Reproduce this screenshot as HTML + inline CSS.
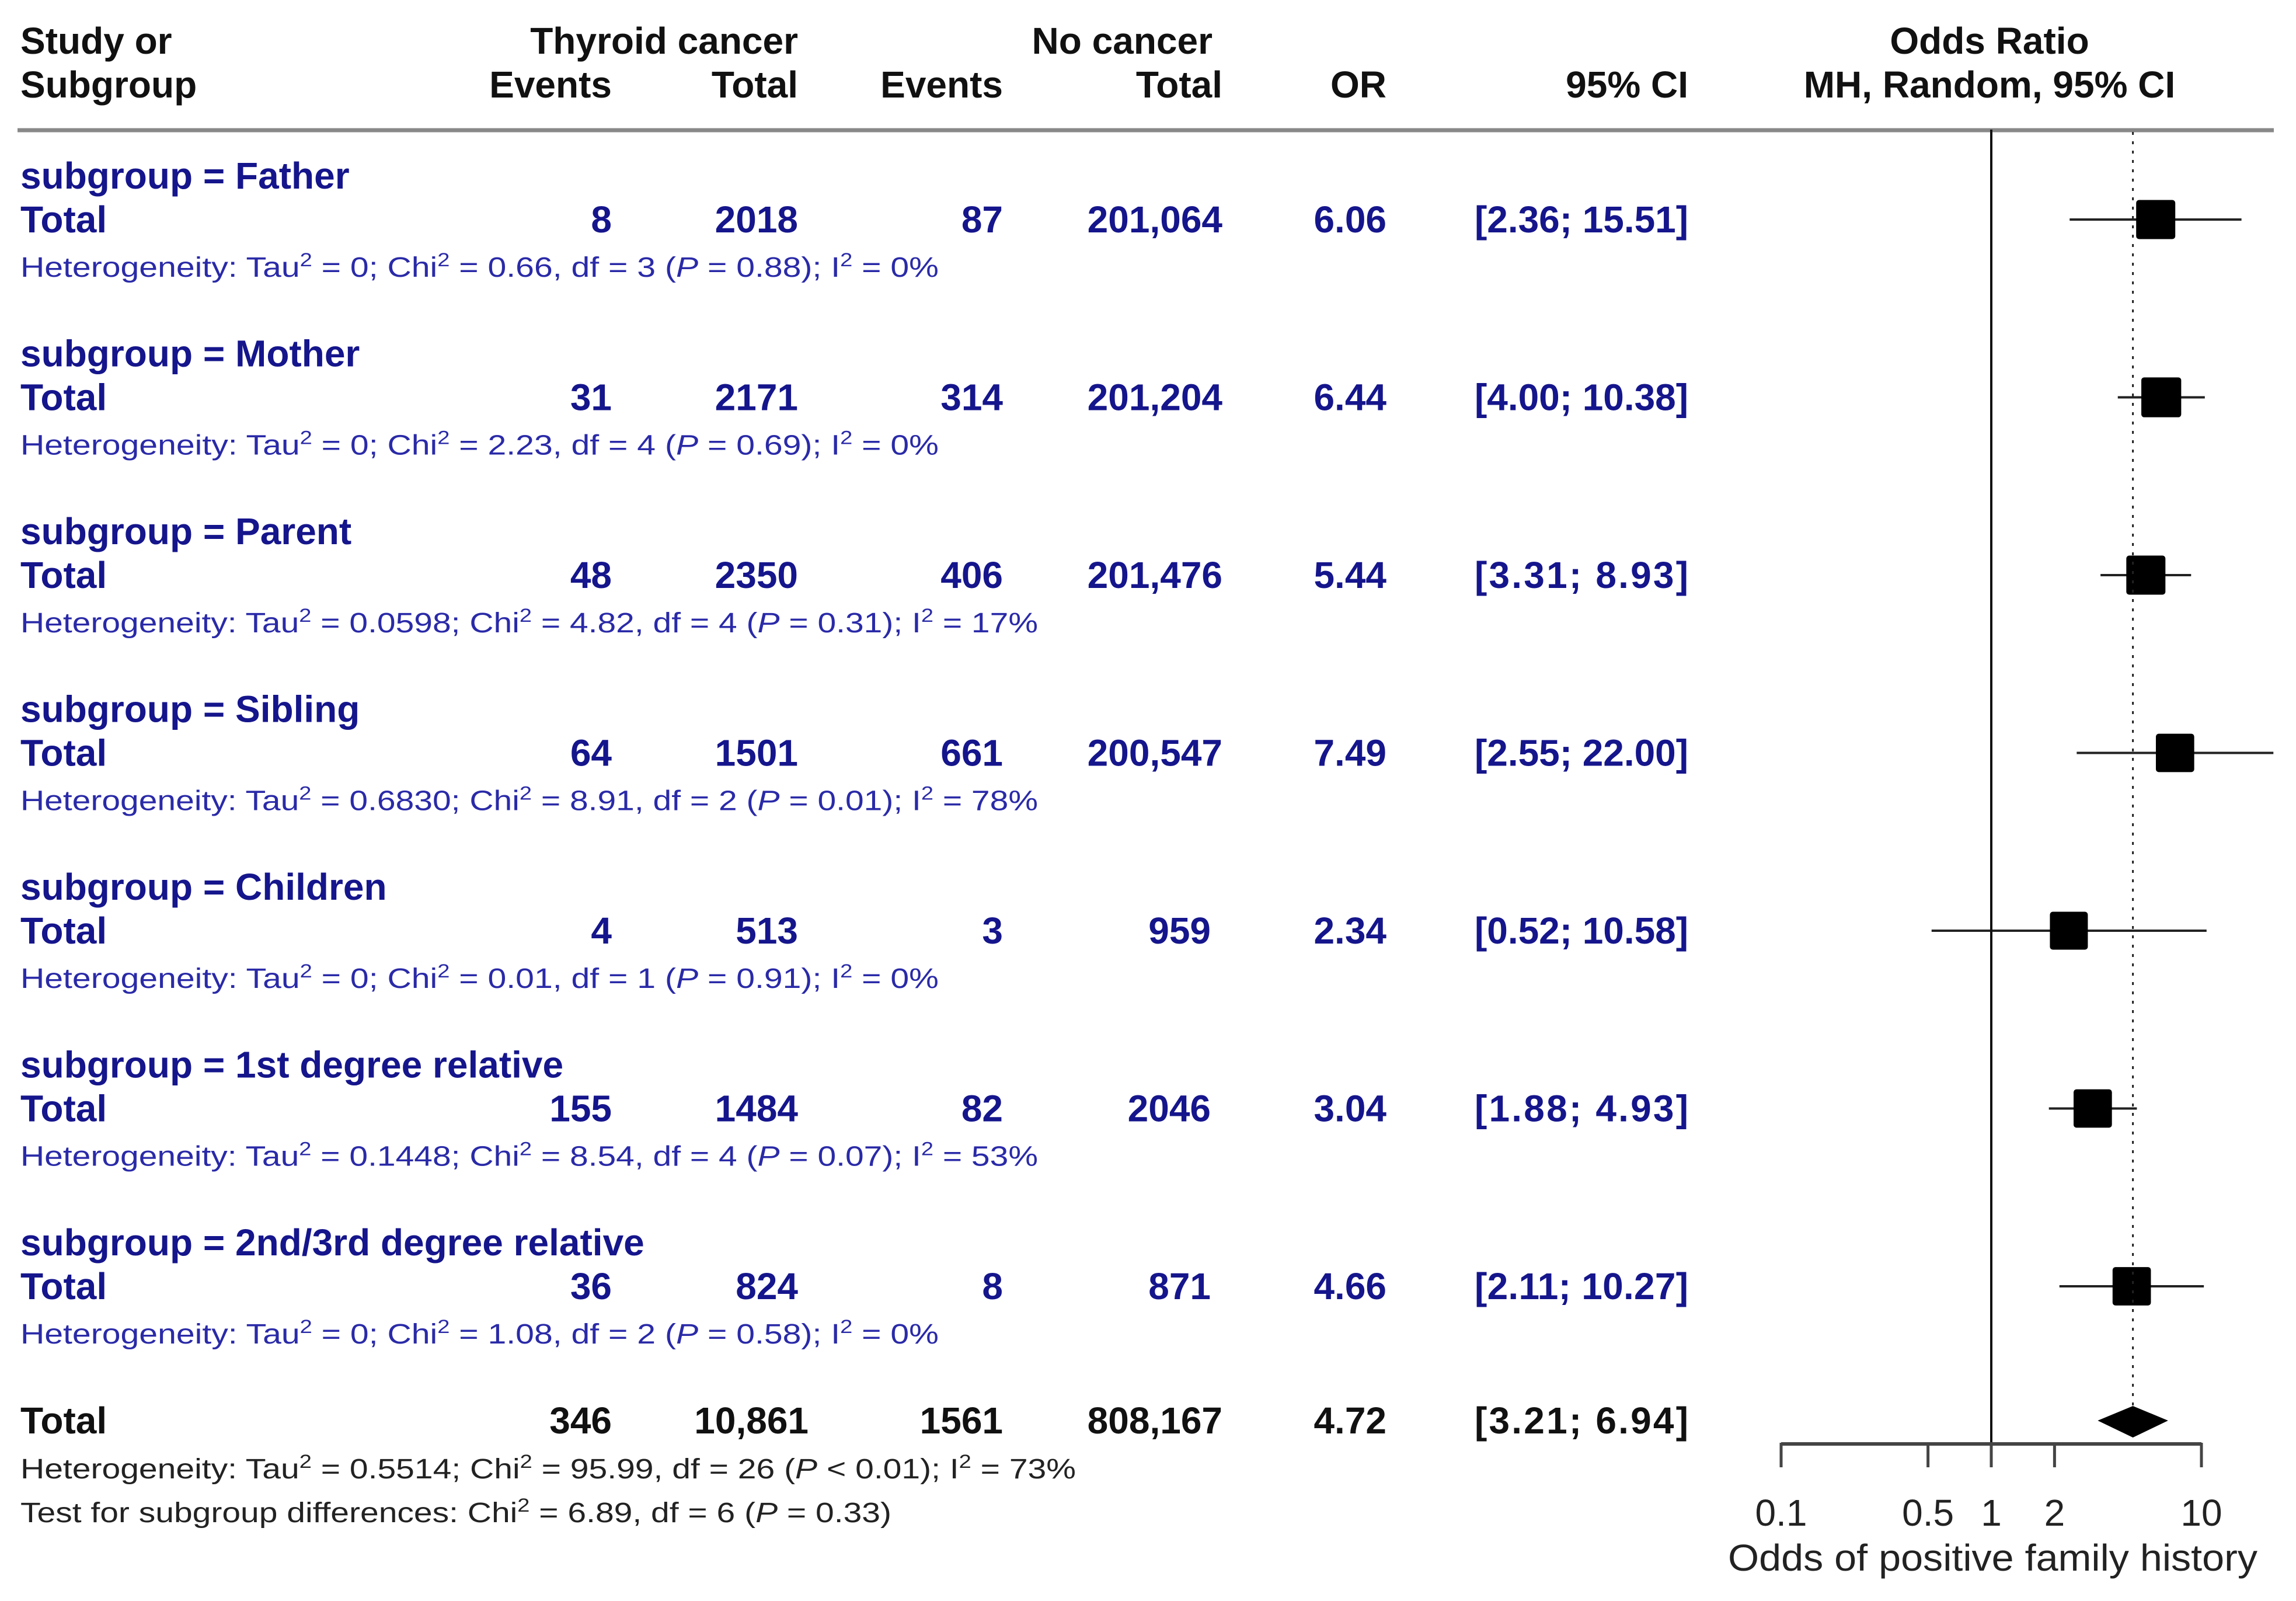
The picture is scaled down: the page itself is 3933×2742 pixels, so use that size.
<!DOCTYPE html>
<html><head><meta charset="utf-8"><style>
html,body{margin:0;padding:0;background:#fff}
svg{display:block}
text{font-family:"Liberation Sans",Arial,sans-serif}
.h{font-weight:bold;font-size:64px;fill:#111}
.b{font-weight:bold;font-size:64px;fill:#15158c}
.het{font-size:48px;fill:#2a2aa8}
.blk{font-size:48px;fill:#222}
.ax{font-size:64px;fill:#222}
</style></head><body>
<svg id="plot" width="3933" height="2742" viewBox="0 0 3933 2742" xmlns="http://www.w3.org/2000/svg">
<g>
<text class="h" x="35" y="92">Study or</text>
<text class="h" x="35" y="167">Subgroup</text>
<text class="h" x="1367" y="92" text-anchor="end">Thyroid cancer</text>
<text class="h" x="1048" y="167" text-anchor="end">Events</text>
<text class="h" x="1367" y="167" text-anchor="end">Total</text>
<text class="h" x="2077" y="92" text-anchor="end">No cancer</text>
<text class="h" x="1718" y="167" text-anchor="end">Events</text>
<text class="h" x="2094" y="167" text-anchor="end">Total</text>
<text class="h" x="2375" y="167" text-anchor="end">OR</text>
<text class="h" x="2892" y="167" text-anchor="end">95% CI</text>
<text class="h" x="3408" y="92" text-anchor="middle">Odds Ratio</text>
<text class="h" x="3408" y="167" text-anchor="middle">MH, Random, 95% CI</text>
</g>
<line x1="30" y1="223" x2="3895" y2="223" stroke="#888" stroke-width="7"/>
<g id="rows"></g>
<g id="marks"></g>
<g>
<text class="h" x="35" y="2455">Total</text>
<text class="h" x="1048" y="2455" text-anchor="end">346</text>
<text class="h" x="1385" y="2455" text-anchor="end">10,861</text>
<text class="h" x="1718" y="2455" text-anchor="end">1561</text>
<text class="h" x="2094" y="2455" text-anchor="end">808,167</text>
<text class="h" x="2375" y="2455" text-anchor="end">4.72</text>
<text class="h" x="2526" y="2455" textLength="366" lengthAdjust="spacing">[3.21;  6.94]</text>
<text class="blk" x="35" y="2532" textLength="1808" lengthAdjust="spacingAndGlyphs">Heterogeneity: Tau<tspan dy="-18" font-size="32">2</tspan><tspan dy="18"> = 0.5514; Chi</tspan><tspan dy="-18" font-size="32">2</tspan><tspan dy="18"> = 95.99, df = 26 (</tspan><tspan font-style="italic">P</tspan> &lt; 0.01); I<tspan dy="-18" font-size="32">2</tspan><tspan dy="18"> = 73%</tspan></text>
<text class="blk" x="35" y="2607" textLength="1492" lengthAdjust="spacingAndGlyphs">Test for subgroup differences: Chi<tspan dy="-18" font-size="32">2</tspan><tspan dy="18"> = 6.89, df = 6 (</tspan><tspan font-style="italic">P</tspan> = 0.33)</text>
</g>
<g id="axis"></g>
<text class="ax" x="2960" y="2690" textLength="907" lengthAdjust="spacingAndGlyphs">Odds of positive family history</text>
</svg>
<script>
const groups = ["Father","Mother","Parent","Sibling","Children","1st degree relative","2nd/3rd degree relative"];
const ev1 = ["8","31","48","64","4","155","36"];
const tot1 = ["2018","2171","2350","1501","513","1484","824"];
const ev2 = ["87","314","406","661","3","82","8"];
const tot2 = ["201,064","201,204","201,476","200,547","959","2046","871"];
const orVals = [6.06,6.44,5.44,7.49,2.34,3.04,4.66];
const ciLo = [2.36,4.00,3.31,2.55,0.52,1.88,2.11];
const ciHi = [15.51,10.38,8.93,22.00,10.58,4.93,10.27];
const weights = [1.0,1.02,1.0,0.98,0.97,0.98,0.98];
const hetTau = ["0","0","0.0598","0.6830","0","0.1448","0"];
const hetChi = ["0.66","2.23","4.82","8.91","0.01","8.54","1.08"];
const hetDf = ["3","4","4","2","1","4","2"];
const hetP = ["0.88","0.69","0.31","0.01","0.91","0.07","0.58"];
const hetI = ["0%","0%","17%","78%","0%","53%","0%"];
const overallOR = 4.72, overallLo = 3.21, overallHi = 6.94;
const ticks = [0.1,0.5,1,2,10];
const tickLabels = ["0.1","0.5","1","2","10"];

const NS="http://www.w3.org/2000/svg";
const xs = v => 3411 + 360*Math.log10(v);
const rowBase = i => 398 + i*304.5;
function mk(tag, attrs, parent, txt){const e=document.createElementNS(NS,tag);for(const k in attrs)e.setAttribute(k,attrs[k]);if(txt!==undefined)e.textContent=txt;parent.appendChild(e);return e;}
const rows=document.getElementById('rows'), marks=document.getElementById('marks'), axis=document.getElementById('axis');

groups.forEach((g,i)=>{
  const y=rowBase(i);
  const grp=mk('g',{},rows);
  
  
  mk('text',{class:'b',x:35,y:y-75},grp,'subgroup = '+g);
  mk('text',{class:'b',x:35,y:y},grp,'Total');
  const small = ["959","2046","871"].includes(tot2[i]);
  const vals=[[ev1[i],1048],[tot1[i],1367],[ev2[i],1718],[tot2[i],small?2074:2094],[orVals[i].toFixed(2),2375]];
  vals.forEach(([t,x])=>mk('text',{class:'b',x:x,y:y,'text-anchor':'end'},grp,t));
  const lo=ciLo[i].toFixed(2), hi=ciHi[i].toFixed(2);
  mk('text',{class:'b',x:2526,y:y,textLength:366,lengthAdjust:'spacing'},grp,'['+lo+'; '+hi+']');
  const longHet = hetTau[i].length>1;
  const h=mk('text',{class:'het',x:35,y:y+76,textLength:longHet?1743:1573,lengthAdjust:'spacingAndGlyphs'},grp);
  h.innerHTML='Heterogeneity: Tau<tspan dy="-18" font-size="32">2</tspan><tspan dy="18"> = '+hetTau[i]+'; Chi</tspan><tspan dy="-18" font-size="32">2</tspan><tspan dy="18"> = '+hetChi[i]+', df = '+hetDf[i]+' (</tspan><tspan font-style="italic">P</tspan> = '+hetP[i]+'); I<tspan dy="-18" font-size="32">2</tspan><tspan dy="18"> = '+hetI[i]+'</tspan>';
  const cy=y-22;
  const ci=mk('line',{x1:xs(ciLo[i]),x2:Math.min(xs(ciHi[i]),3895),y1:cy,y2:cy,stroke:'#222','stroke-width':4},marks);
  
  
  const s=67*weights[i];
  const sq=mk('rect',{x:xs(orVals[i])-s/2,y:cy-s/2,width:s,height:s,rx:5,fill:'#000'},marks);
  
  
});

const v1=mk('line',{x1:xs(1),x2:xs(1),y1:222,y2:2513,stroke:'#111','stroke-width':4},marks);


const vd=mk('line',{x1:xs(overallOR),x2:xs(overallOR),y1:226,y2:2410,stroke:'#222','stroke-width':3,'stroke-dasharray':'5 11'},marks);


const dm=mk('polygon',{points:[xs(overallLo)+','+2433, xs(overallOR)+','+2408, xs(overallHi)+','+2433, xs(overallOR)+','+2462].join(' '),fill:'#000'},marks);



const al=mk('line',{x1:xs(ticks[0]),x2:xs(ticks[ticks.length-1]),y1:2473,y2:2473,stroke:'#444','stroke-width':6},axis);


ticks.forEach((t,i)=>{
  const tk=mk('line',{x1:xs(t),x2:xs(t),y1:2471,y2:2513,stroke:'#444','stroke-width':5},axis);
  
  
  const tl=mk('text',{class:'ax',x:xs(t),y:2613,'text-anchor':'middle'},axis,tickLabels[i]);
  
  
});
</script>
</body></html>
